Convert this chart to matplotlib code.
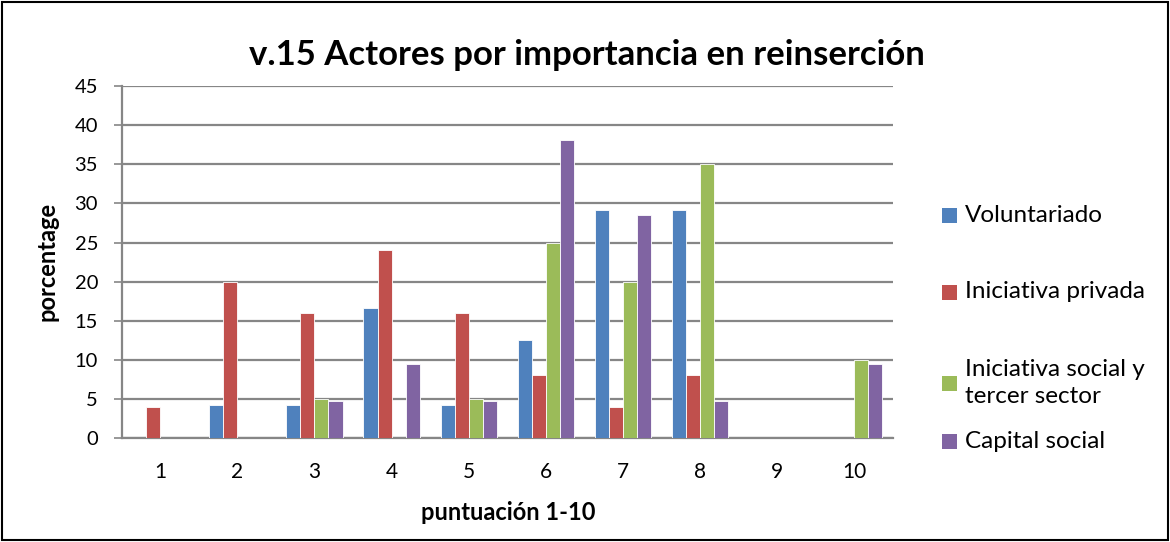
import numpy as np
import matplotlib
matplotlib.use("Agg")
import matplotlib.pyplot as plt
from matplotlib.patches import Rectangle

plt.rcParams["font.family"] = ["Lato", "DejaVu Sans"]

categorias = ["1", "2", "3", "4", "5", "6", "7", "8", "9", "10"]
series = ["Voluntariado", "Iniciativa privada", "Iniciativa social y\ntercer sector", "Capital social"]
voluntariado = [0, 4.17, 4.17, 16.67, 4.17, 12.5, 29.17, 29.17, 0, 0]
iniciativa_privada = [4, 20, 16, 24, 16, 8, 4, 8, 0, 0]
iniciativa_social = [0, 0, 5, 0, 5, 25, 20, 35, 0, 10]
capital_social = [0, 0, 4.76, 9.52, 4.76, 38.1, 28.57, 4.76, 0, 9.52]
colores = ["#4F81BD", "#C0504D", "#9BBB59", "#8064A2"]

fig = plt.figure(figsize=(11.7, 5.42), dpi=100)
ax = fig.add_axes([0.104, 0.192, 0.659, 0.649])

x = np.arange(len(categorias))
ancho = 0.182
valores = [voluntariado, iniciativa_privada, iniciativa_social, capital_social]
for i, (vals, col, nombre) in enumerate(zip(valores, colores, series)):
    ax.bar(x + (i - 1.5) * ancho, vals, ancho, color=col, edgecolor="white",
           linewidth=0.6, label=nombre, zorder=3)

ax.set_xlim(-0.5, 9.5)
ax.set_ylim(0, 45)
ax.set_yticks(range(0, 46, 5))
ax.set_xticks(x)
ax.set_xticklabels(categorias)
ax.grid(axis="y", color="#868686", linewidth=1.6, zorder=0)
for s in ["top", "right"]:
    ax.spines[s].set_visible(False)
for s in ["left", "bottom"]:
    ax.spines[s].set_color("#868686")
    ax.spines[s].set_linewidth(1.6)
ax.tick_params(axis="y", labelsize=14.5, length=6, color="#868686", width=1.2, pad=11)
ax.tick_params(axis="x", labelsize=15, length=0, pad=17)

fig.text(0.040, 0.517, "porcentage", fontsize=17, fontweight="bold",
         rotation=90, ha="center", va="center")
fig.text(0.434, 0.054, "puntuación 1-10", fontsize=17, fontweight="bold",
         ha="center", va="center")
fig.text(0.502, 0.898, "v.15 Actores por importancia en reinserción", fontsize=25,
         fontweight="bold", ha="center", va="center")

# leyenda a mano (Excel reparte las entradas de forma irregular)
leyenda_y = [215, 292, 383, 441]
for nombre, col, yp in zip(series, colores, leyenda_y):
    yf = 1 - yp / 542
    fig.add_artist(Rectangle((942 / 1170, yf - 7.5 / 542), 15 / 1170, 15 / 542,
                             transform=fig.transFigure, facecolor=col, edgecolor="none"))
    fig.text(965 / 1170, yf, nombre, fontsize=17.5, ha="left", va="center",
             linespacing=1.3)

fig.add_artist(Rectangle((0.002, 0.003), 0.996, 0.994, transform=fig.transFigure,
                         fill=False, edgecolor="black", linewidth=1.5))

fig.savefig("out.png", dpi=100)
